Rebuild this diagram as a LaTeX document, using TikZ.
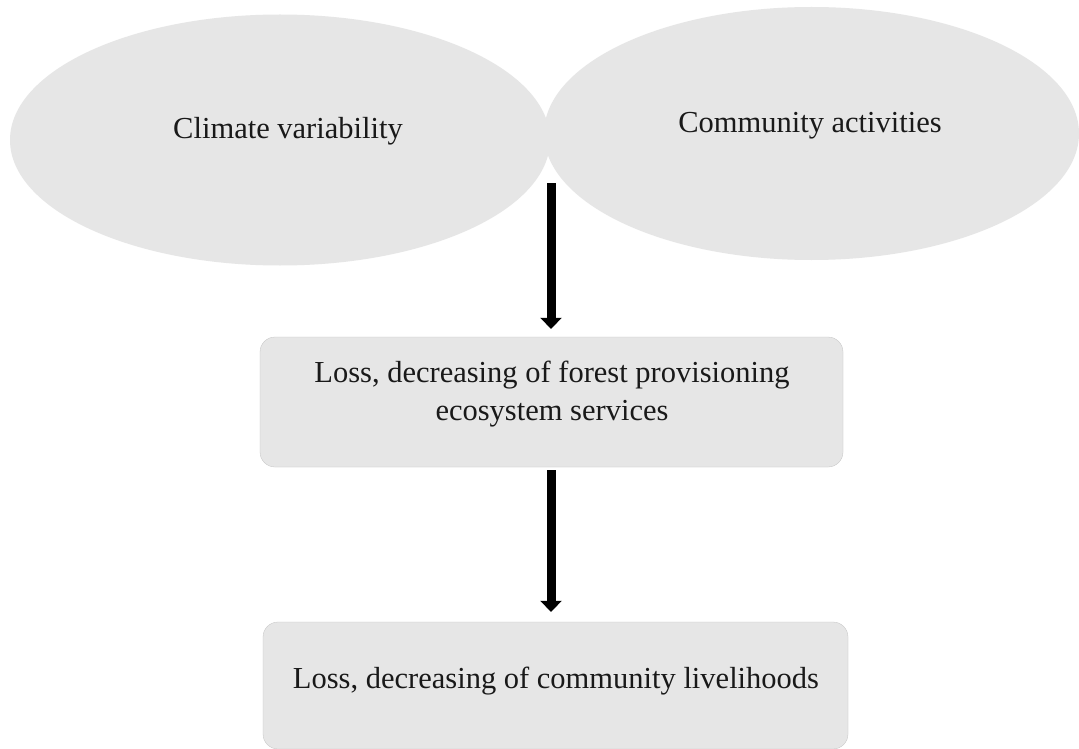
\documentclass[tikz,border=0pt]{standalone}
\usepackage{fontspec}
\setmainfont{Liberation Serif}
\usetikzlibrary{arrows.meta,shapes.geometric}
\definecolor{shapegray}{HTML}{E6E6E6}
\begin{document}
\begin{tikzpicture}[x=1pt,y=-1pt,
  blob/.style={ellipse, fill=shapegray, draw=none, inner sep=0pt},
  panel/.style={rectangle, rounded corners=15pt, fill=shapegray, draw=shapegray!85!black, line width=0.3pt, inner sep=0pt},
  lbl/.style={font=\fontsize{30.5}{38}\selectfont, text=black!90, align=center, inner sep=0pt, anchor=base},
  flow/.style={line width=9pt, draw=black, -{Triangle[width=21pt,length=11pt]}}
]
\useasboundingbox (0,0) rectangle (1079,749);
\fill[white] (0,0) rectangle (1079,749);
% ellipses
\node[blob, minimum width=540pt, minimum height=251pt] (cv) at (280,140) {};
\node[blob, minimum width=535pt, minimum height=253pt] (ca) at (811.5,133.5) {};
\node[lbl] (cvt) at (288,139) {Climate variability};
\node[lbl] (cat) at (810,133) {Community activities};
% boxes
\node[panel, minimum width=583pt, minimum height=130pt] (b1) at (551.5,402) {};
\node[lbl] (b1t) at (552,420) {Loss, decreasing of forest provisioning\\ecosystem services};
\node[panel, minimum width=585pt, minimum height=127pt] (b2) at (555.5,685.5) {};
\node[lbl] (b2t) at (556,688) {Loss, decreasing of community livelihoods};
% arrows
\coordinate (s1) at (551,183);
\draw[flow, shorten >=8pt] (s1) -- (s1 |- b1.north);
\coordinate (s2) at (551,470);
\draw[flow, shorten >=10pt] (s2) -- (s2 |- b2.north);
\end{tikzpicture}
\end{document}
